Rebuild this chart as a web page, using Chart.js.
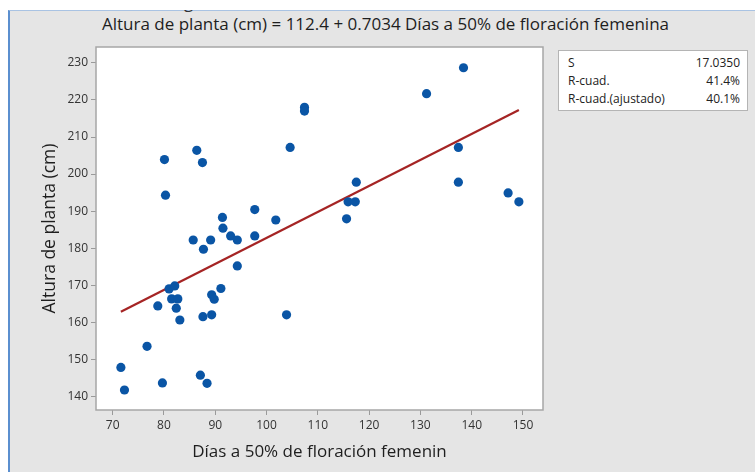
<!DOCTYPE html>
<html>
<head>
<meta charset="utf-8">
<script src="https://cdn.jsdelivr.net/npm/chart.js@4.4.0/dist/chart.umd.min.js"></script>
<style>
  html, body { margin: 0; padding: 0; background: #fff; }
  body { width: 755px; height: 472px; position: relative; overflow: hidden; font-family: "Open Sans", sans-serif; }
  #frame { position: absolute; left: 8px; top: 10px; right: 0; bottom: 0; background: #e5e5e5;
           border-left: 2px solid #5b8fcf; border-top: 1px solid #a9c3e3; }
  #cut { position: absolute; left: 183px; top: 10px; width: 12px; height: 5px; overflow: hidden; }
  #cut span { position: absolute; left: 1px; top: -20px; font-size: 17px; color: #333; line-height: 23px; }
  #title { position: absolute; left: 0; width: 771px; top: 12px; text-align: center;
           font-size: 17px; color: #1e1e1e; white-space: nowrap; line-height: 23px; }
  #stats { position: absolute; left: 558px; top: 50px; width: 188px; height: 59px; background: #fff;
           border: 1px solid #b4b4b4; font-size: 12px; color: #222; }
  #stats div { display: flex; justify-content: space-between; padding: 0 7px 0 9px; height: 18px; line-height: 18px; }
  #stats div:first-child { margin-top: 3px; }
  canvas { position: absolute; left: 0; top: 0; }
</style>
</head>
<body>
<div id="frame"></div>
<div id="cut"><span>g</span></div>
<div id="title">Altura de planta (cm) = 112.4 + 0.7034 Días a 50% de floración femenina</div>
<canvas id="c" width="755" height="472"></canvas>
<div id="stats">
  <div><span>S</span><span>17.0350</span></div>
  <div><span>R-cuad.</span><span>41.4%</span></div>
  <div><span>R-cuad.(ajustado)</span><span>40.1%</span></div>
</div>
<script>
// días a 50% floración femenina vs altura de planta
const diasFloracion = [71.6, 72.3, 76.7, 78.8, 79.7, 80.1, 80.3, 81.0, 82.1, 81.5, 82.7, 82.4, 83.1,
  85.7, 86.4, 87.1, 87.5, 87.6, 87.7, 88.4, 89.1, 89.3, 89.3, 89.8, 91.1, 91.4, 91.5, 93.0, 94.3,
  94.3, 97.7, 97.7, 101.8, 103.9, 104.6, 107.4, 107.4, 115.6, 115.9, 117.3, 117.5, 131.2, 137.4,
  137.4, 138.4, 147.1, 149.2];
const alturaPlanta = [147.8, 141.7, 153.5, 164.4, 143.6, 203.9, 194.3, 169.0, 169.8, 166.3, 166.3, 163.8, 160.6,
  182.2, 206.4, 145.7, 203.1, 161.5, 179.7, 143.5, 182.2, 167.4, 162.0, 166.2, 169.1, 188.3, 185.4, 183.3, 182.2,
  175.2, 190.4, 183.3, 187.6, 162.0, 207.2, 218.0, 217.0, 187.9, 192.5, 192.5, 197.8, 221.7, 207.2,
  197.8, 228.7, 194.9, 192.5];
// recta ajustada (extremos)
const ajusteX = [71.6, 149.2];
const ajusteY = [162.8, 217.3];
const xTicks = [70, 80, 90, 100, 110, 120, 130, 140, 150];
const yTicks = [140, 150, 160, 170, 180, 190, 200, 210, 220, 230];

const FONT = '"Open Sans", sans-serif';

const plotBg = {
  id: 'plotBg',
  beforeDraw(chart) {
    const { ctx, chartArea: a } = chart;
    ctx.save();
    ctx.fillStyle = '#fff';
    ctx.fillRect(a.left, a.top, a.right - a.left, a.bottom - a.top);
    ctx.restore();
  },
  afterDraw(chart) {
    const { ctx, chartArea: a } = chart;
    ctx.save();
    ctx.strokeStyle = '#a6a6a6';
    ctx.lineWidth = 1.5;
    ctx.strokeRect(a.left, a.top, a.right - a.left, a.bottom - a.top);
    ctx.restore();
  }
};

new Chart(document.getElementById('c'), {
  type: 'scatter',
  data: {
    datasets: [
      {
        type: 'line',
        data: ajusteX.map((x, i) => ({ x, y: ajusteY[i] })),
        borderColor: '#a52424', borderWidth: 2.2, pointRadius: 0, fill: false, order: 2,
      },
      {
        data: diasFloracion.map((x, i) => ({ x, y: alturaPlanta[i] })),
        backgroundColor: '#0a55a5', borderColor: '#0a55a5', borderWidth: 0,
        pointRadius: 4.6, order: 1,
      },
    ],
  },
  options: {
    responsive: false, animation: false, devicePixelRatio: 1,
    layout: { padding: { left: 0, right: 212, top: 47, bottom: 0 } },
    plugins: { legend: { display: false }, tooltip: { enabled: false } },
    scales: {
      x: {
        type: 'linear', min: 66.75, max: 153.9,
        afterBuildTicks: s => { s.ticks = xTicks.map(v => ({ value: v })); },
        afterFit: s => { s.height = 62; },
        grid: { drawOnChartArea: false, drawTicks: true, tickLength: 5, color: '#9a9a9a' },
        border: { display: false },
        ticks: { font: { family: FONT, size: 12 }, color: '#333', padding: 3, maxRotation: 0 },
        title: { display: true, text: 'Días a 50% de floración femenin', color: '#1e1e1e',
                 font: { family: FONT, size: 17 }, padding: { top: 0, bottom: 10 } },
      },
      y: {
        type: 'linear', min: 136.3, max: 234.3,
        afterBuildTicks: s => { s.ticks = yTicks.map(v => ({ value: v })); },
        afterFit: s => { s.width = 96; },
        grid: { drawOnChartArea: false, drawTicks: true, tickLength: 5, color: '#9a9a9a' },
        border: { display: false },
        ticks: { font: { family: FONT, size: 12 }, color: '#333', padding: 3 },
        title: { display: true, text: 'Altura de planta (cm)', color: '#1e1e1e',
                 font: { family: FONT, size: 17.5 }, padding: { top: 39.5, bottom: 0 } },
      },
    },
  },
  plugins: [plotBg],
});
</script>
</body>
</html>
